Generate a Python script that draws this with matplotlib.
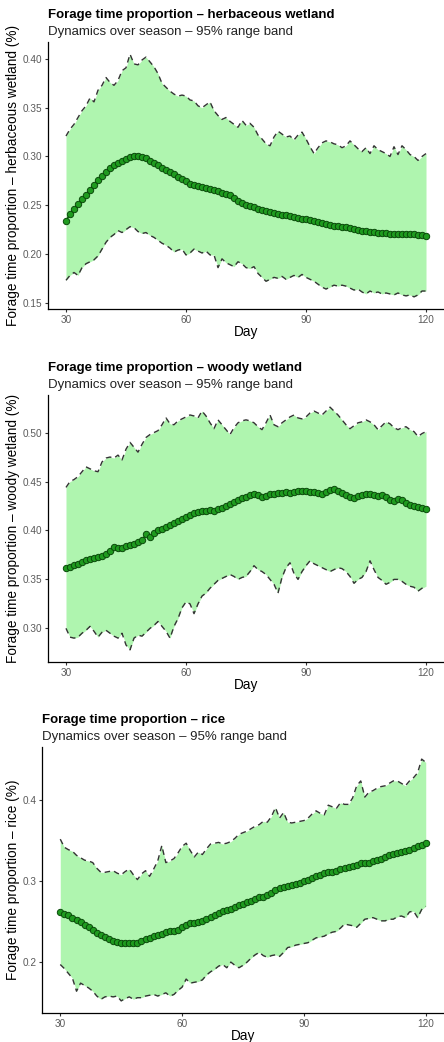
import numpy as np
import matplotlib
matplotlib.use('Agg')
import matplotlib.pyplot as plt

plt.rcParams['font.family'] = ['Liberation Sans', 'DejaVu Sans']

days = np.arange(30, 121)

# herbaceous wetland
herb_mean = [
    0.234, 0.241, 0.246, 0.251, 0.256, 0.261, 0.266, 0.271, 0.276, 0.280,
    0.284, 0.288, 0.291, 0.293, 0.295, 0.297, 0.299, 0.300, 0.300, 0.299,
    0.298, 0.295, 0.293, 0.291, 0.288, 0.286, 0.284, 0.282, 0.279, 0.277,
    0.275, 0.272, 0.271, 0.270, 0.269, 0.268, 0.267, 0.266, 0.265, 0.263,
    0.262, 0.260, 0.257, 0.254, 0.252, 0.250, 0.249, 0.248, 0.246, 0.245,
    0.244, 0.243, 0.242, 0.241, 0.240, 0.240, 0.239, 0.238, 0.237, 0.236,
    0.236, 0.235, 0.234, 0.233, 0.232, 0.231, 0.230, 0.229, 0.229, 0.228,
    0.228, 0.227, 0.226, 0.225, 0.224, 0.224, 0.223, 0.223, 0.222, 0.222,
    0.222, 0.221, 0.221, 0.221, 0.220, 0.220, 0.220, 0.220, 0.219, 0.219,
    0.218]
herb_hi = [
    0.321, 0.328, 0.333, 0.340, 0.347, 0.352, 0.360, 0.356, 0.368, 0.373,
    0.381, 0.376, 0.373, 0.378, 0.388, 0.391, 0.405, 0.395, 0.394, 0.399,
    0.402, 0.397, 0.392, 0.385, 0.375, 0.371, 0.367, 0.364, 0.362, 0.363,
    0.362, 0.358, 0.357, 0.352, 0.350, 0.353, 0.356, 0.347, 0.342, 0.338,
    0.340, 0.336, 0.333, 0.330, 0.337, 0.332, 0.334, 0.330, 0.322, 0.318,
    0.313, 0.311, 0.320, 0.326, 0.323, 0.320, 0.321, 0.317, 0.322, 0.325,
    0.318, 0.310, 0.303, 0.309, 0.314, 0.316, 0.315, 0.313, 0.312, 0.309,
    0.311, 0.316, 0.312, 0.308, 0.305, 0.309, 0.303, 0.311, 0.307, 0.305,
    0.303, 0.300, 0.310, 0.302, 0.311, 0.307, 0.302, 0.300, 0.296, 0.300,
    0.303]
herb_lo = [
    0.173, 0.178, 0.181, 0.178, 0.186, 0.190, 0.192, 0.194, 0.198, 0.205,
    0.212, 0.217, 0.220, 0.224, 0.222, 0.225, 0.228, 0.227, 0.223, 0.221,
    0.222, 0.219, 0.217, 0.214, 0.211, 0.209, 0.206, 0.202, 0.204, 0.205,
    0.199, 0.201, 0.205, 0.203, 0.201, 0.203, 0.199, 0.199, 0.186, 0.195,
    0.191, 0.189, 0.187, 0.192, 0.190, 0.186, 0.185, 0.187, 0.180, 0.176,
    0.172, 0.174, 0.176, 0.175, 0.177, 0.174, 0.176, 0.178, 0.176, 0.179,
    0.176, 0.174, 0.172, 0.169, 0.166, 0.164, 0.166, 0.168, 0.167, 0.168,
    0.167, 0.165, 0.163, 0.164, 0.161, 0.159, 0.162, 0.160, 0.161, 0.159,
    0.160, 0.159, 0.158, 0.160, 0.158, 0.157, 0.158, 0.156, 0.158, 0.162,
    0.162]

# woody wetland
woody_mean = [
    0.362, 0.363, 0.365, 0.366, 0.368, 0.370, 0.371, 0.372, 0.373, 0.374,
    0.376, 0.379, 0.383, 0.382, 0.382, 0.384, 0.385, 0.386, 0.388, 0.390,
    0.396, 0.393, 0.397, 0.400, 0.402, 0.404, 0.406, 0.408, 0.410, 0.412,
    0.414, 0.416, 0.418, 0.419, 0.420, 0.420, 0.421, 0.420, 0.422, 0.423,
    0.425, 0.427, 0.429, 0.431, 0.433, 0.434, 0.436, 0.437, 0.436, 0.434,
    0.435, 0.437, 0.437, 0.438, 0.438, 0.439, 0.438, 0.439, 0.440, 0.440,
    0.440, 0.439, 0.439, 0.438, 0.437, 0.439, 0.441, 0.442, 0.440, 0.438,
    0.436, 0.434, 0.433, 0.435, 0.436, 0.437, 0.437, 0.436, 0.435, 0.436,
    0.434, 0.431, 0.430, 0.432, 0.431, 0.428, 0.426, 0.425, 0.424, 0.423,
    0.422]
woody_hi = [
    0.444, 0.450, 0.452, 0.455, 0.460, 0.465, 0.463, 0.461, 0.460, 0.470,
    0.474, 0.475, 0.474, 0.477, 0.472, 0.483, 0.490, 0.485, 0.480, 0.488,
    0.495, 0.498, 0.500, 0.502, 0.508, 0.515, 0.509, 0.508, 0.512, 0.514,
    0.516, 0.518, 0.517, 0.515, 0.522, 0.517, 0.510, 0.504, 0.513, 0.508,
    0.503, 0.498, 0.505, 0.510, 0.512, 0.513, 0.512, 0.510, 0.506, 0.503,
    0.510, 0.518, 0.508, 0.506, 0.510, 0.513, 0.516, 0.518, 0.515, 0.514,
    0.516, 0.520, 0.522, 0.520, 0.518, 0.522, 0.526, 0.522, 0.518, 0.513,
    0.508, 0.504, 0.507, 0.510, 0.511, 0.513, 0.511, 0.508, 0.503, 0.507,
    0.511, 0.509, 0.505, 0.503, 0.505, 0.506, 0.503, 0.501, 0.496, 0.499,
    0.501]
woody_lo = [
    0.300, 0.291, 0.290, 0.291, 0.295, 0.298, 0.302, 0.297, 0.291, 0.296,
    0.298, 0.295, 0.292, 0.290, 0.295, 0.283, 0.278, 0.290, 0.293, 0.292,
    0.296, 0.300, 0.303, 0.307, 0.302, 0.297, 0.290, 0.302, 0.310, 0.321,
    0.327, 0.325, 0.315, 0.325, 0.333, 0.336, 0.341, 0.345, 0.349, 0.351,
    0.353, 0.355, 0.353, 0.350, 0.352, 0.353, 0.358, 0.364, 0.360, 0.358,
    0.355, 0.350, 0.345, 0.336, 0.352, 0.362, 0.367, 0.356, 0.350, 0.358,
    0.364, 0.369, 0.366, 0.364, 0.362, 0.360, 0.358, 0.360, 0.362, 0.361,
    0.358, 0.353, 0.346, 0.350, 0.352, 0.358, 0.369, 0.360, 0.352, 0.349,
    0.345, 0.347, 0.350, 0.350, 0.348, 0.345, 0.343, 0.342, 0.338, 0.341,
    0.343]

# rice
rice_mean = [
    0.262, 0.260, 0.258, 0.255, 0.252, 0.249, 0.246, 0.243, 0.240, 0.236,
    0.233, 0.231, 0.228, 0.226, 0.225, 0.224, 0.223, 0.223, 0.223, 0.224,
    0.226, 0.228, 0.230, 0.232, 0.233, 0.235, 0.237, 0.238, 0.238, 0.240,
    0.243, 0.246, 0.248, 0.248, 0.249, 0.251, 0.253, 0.256, 0.258, 0.261,
    0.263, 0.265, 0.266, 0.268, 0.270, 0.272, 0.274, 0.276, 0.278, 0.280,
    0.281, 0.283, 0.286, 0.289, 0.291, 0.293, 0.294, 0.295, 0.297, 0.298,
    0.300, 0.302, 0.304, 0.306, 0.308, 0.310, 0.311, 0.312, 0.313, 0.315,
    0.316, 0.318, 0.319, 0.320, 0.322, 0.323, 0.322, 0.325, 0.326, 0.328,
    0.330, 0.333, 0.334, 0.335, 0.336, 0.337, 0.339, 0.341, 0.343, 0.345,
    0.347]
rice_hi = [
    0.352, 0.342, 0.339, 0.337, 0.332, 0.329, 0.326, 0.325, 0.323, 0.316,
    0.311, 0.311, 0.312, 0.313, 0.310, 0.308, 0.312, 0.315, 0.308, 0.302,
    0.309, 0.313, 0.306, 0.315, 0.325, 0.344, 0.323, 0.325, 0.328, 0.335,
    0.343, 0.347, 0.338, 0.330, 0.336, 0.333, 0.340, 0.346, 0.347, 0.348,
    0.346, 0.347, 0.349, 0.353, 0.358, 0.360, 0.362, 0.365, 0.368, 0.370,
    0.374, 0.373, 0.380, 0.391, 0.378, 0.385, 0.373, 0.372, 0.373, 0.374,
    0.375, 0.378, 0.383, 0.387, 0.384, 0.382, 0.394, 0.392, 0.390, 0.397,
    0.395, 0.395, 0.403, 0.418, 0.424, 0.404, 0.410, 0.412, 0.415, 0.417,
    0.418, 0.421, 0.424, 0.424, 0.421, 0.418, 0.424, 0.428, 0.434, 0.451,
    0.447]
rice_lo = [
    0.197, 0.192, 0.186, 0.180, 0.164, 0.174, 0.171, 0.168, 0.164, 0.158,
    0.154, 0.157, 0.158, 0.157, 0.158, 0.152, 0.155, 0.157, 0.154, 0.156,
    0.156, 0.158, 0.159, 0.160, 0.158, 0.160, 0.162, 0.158, 0.160, 0.165,
    0.169, 0.179, 0.174, 0.175, 0.176, 0.178, 0.184, 0.188, 0.191, 0.195,
    0.197, 0.193, 0.200, 0.196, 0.193, 0.196, 0.200, 0.205, 0.209, 0.212,
    0.208, 0.206, 0.208, 0.209, 0.207, 0.212, 0.218, 0.219, 0.221, 0.222,
    0.223, 0.224, 0.227, 0.230, 0.231, 0.232, 0.235, 0.237, 0.238, 0.242,
    0.247, 0.246, 0.245, 0.243, 0.248, 0.253, 0.254, 0.255, 0.253, 0.251,
    0.251, 0.253, 0.253, 0.256, 0.257, 0.255, 0.262, 0.263, 0.255, 0.265,
    0.269]

habitats = ['herbaceous wetland', 'woody wetland', 'rice']
means = [herb_mean, woody_mean, rice_mean]
highs = [herb_hi, woody_hi, rice_hi]
lows = [herb_lo, woody_lo, rice_lo]
yticks = [[0.15, 0.20, 0.25, 0.30, 0.35, 0.40],
          [0.30, 0.35, 0.40, 0.45, 0.50],
          [0.2, 0.3, 0.4]]
ytick_fmt = ['{:.2f}', '{:.2f}', '{:.1f}']

W, H = 444, 1042
fig = plt.figure(figsize=(W / 100, H / 100), dpi=100)

# axes boxes in pixels: left, top, right, bottom
boxes = [(48, 42, 444, 309), (48, 395, 444, 662), (42, 747, 444, 1013)]

for i, name in enumerate(habitats):
    l, t, r, b = boxes[i]
    ax = fig.add_axes([l / W, 1 - b / H, (r - l) / W, (b - t) / H])
    ax.fill_between(days, lows[i], highs[i], color='#aff5af', lw=0, zorder=1)
    ax.plot(days, highs[i], color='#333333', lw=1.0, ls=(0, (4, 3)), zorder=2)
    ax.plot(days, lows[i], color='#333333', lw=1.0, ls=(0, (4, 3)), zorder=2)
    ax.plot(days, means[i], color='#0b5e0b', lw=1.2, zorder=3)
    ax.scatter(days, means[i], s=21, facecolor='#1f9b1f', edgecolor='#0a4a0a',
               linewidth=0.7, zorder=4)

    ax.set_xlim(25.5, 124.5)
    allv = np.concatenate([lows[i], highs[i]])
    pad = (allv.max() - allv.min()) * 0.05
    ax.set_ylim(allv.min() - pad, allv.max() + pad)
    ax.set_xticks([30, 60, 90, 120])
    ax.set_yticks(yticks[i])
    ax.set_yticklabels([ytick_fmt[i].format(v) for v in yticks[i]])

    for s in ['top', 'right']:
        ax.spines[s].set_visible(False)
    for s in ['left', 'bottom']:
        ax.spines[s].set_color('black')
        ax.spines[s].set_linewidth(0.9)
    ax.tick_params(length=2.5, width=0.8, color='#333333', labelsize=7.2,
                   labelcolor='#5a5a5a', pad=1.5)

    ax.set_xlabel('Day', fontsize=9.8, labelpad=0)
    ax.set_ylabel('Forage time proportion \u2013 ' + name + ' (%)',
                  fontsize=9.8, labelpad=2)

    ax.text(0, 1.0 + 27 / (b - t), 'Forage time proportion \u2013 ' + name,
            transform=ax.transAxes, fontsize=9.5, fontweight='bold',
            va='center', ha='left')
    ax.text(0, 1.0 + 10 / (b - t), 'Dynamics over season \u2013 95% range band',
            transform=ax.transAxes, fontsize=9.5, color='#222222',
            va='center', ha='left')

fig.savefig('out.png', dpi=100)
